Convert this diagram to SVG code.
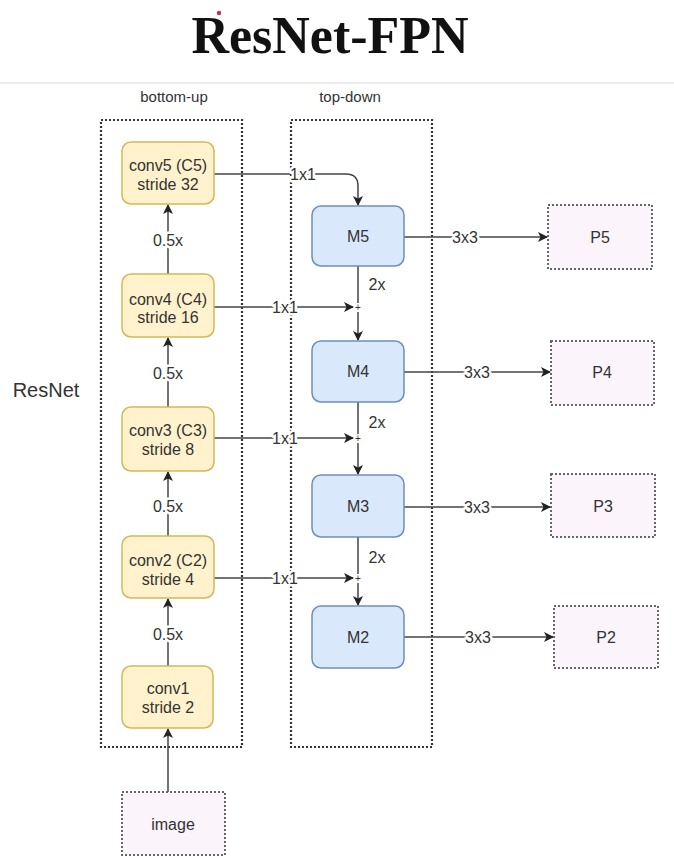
<svg xmlns="http://www.w3.org/2000/svg" width="674" height="866" viewBox="0 0 674 866">
<defs>
<marker id="arr" viewBox="0 0 10 10" refX="9" refY="5" markerWidth="10" markerHeight="10" markerUnits="userSpaceOnUse" orient="auto">
<path d="M0,0 L10,5 L0,10 L2.5,5 Z" fill="#222"/>
</marker>
<style>
.t{font-family:"Liberation Sans",Arial,sans-serif;font-size:16px;fill:#333;text-anchor:middle}
.lbl{font-family:"Liberation Sans",Arial,sans-serif;font-size:16px;fill:#333;text-anchor:middle;paint-order:stroke;stroke:#fff;stroke-width:5px;stroke-linejoin:round}
.sec{font-family:"Liberation Sans",Arial,sans-serif;font-size:15px;fill:#333;text-anchor:middle}
.cont{fill:none;stroke:#333;stroke-width:2.2;stroke-dasharray:2 2}
.conv{fill:#fff2cc;stroke:#d6b656;stroke-width:1.5}
.m{fill:#dae8fc;stroke:#6c8ebf;stroke-width:1.5}
.p{fill:#fbf4fb;stroke:#666;stroke-width:2;stroke-dasharray:2 2}
.ln{fill:none;stroke:#444;stroke-width:1.5}
.plus{font-family:"Liberation Sans",Arial,sans-serif;font-size:10px;fill:#333;text-anchor:middle}
</style>
</defs>
<rect width="674" height="866" fill="#fff"/>
<text x="330" y="53" font-family="Liberation Serif,'Times New Roman',serif" font-size="52" font-weight="bold" fill="#111" text-anchor="middle">ResNet-FPN</text>
<circle cx="219" cy="13" r="2.2" fill="#c0304a"/>
<line x1="0" y1="83" x2="674" y2="83" stroke="#e6e6e6" stroke-width="1.5"/>
<text class="sec" x="174" y="102">bottom-up</text>
<text class="sec" x="350" y="102">top-down</text>
<text x="46" y="397" font-family="Liberation Sans,Arial,sans-serif" font-size="20" fill="#333" text-anchor="middle">ResNet</text>
<g id="bottom-up"><rect class="cont" x="101" y="120" width="141" height="627"/></g>
<g id="top-down"><rect class="cont" x="291" y="120" width="141" height="627"/></g>
<g id="connectors">
<path class="ln" d="M214,174 H346 Q358,174 358,186 V205" marker-end="url(#arr)"/>
<text class="lbl" x="303" y="180">1x1</text>
<path class="ln" d="M214,307 H353" marker-end="url(#arr)"/>
<text class="lbl" x="285" y="313">1x1</text>
<path class="ln" d="M214,438 H353" marker-end="url(#arr)"/>
<text class="lbl" x="285" y="444">1x1</text>
<path class="ln" d="M214,578 H353" marker-end="url(#arr)"/>
<text class="lbl" x="285" y="584">1x1</text>
<path class="ln" d="M358,266 V303"/>
<path class="ln" d="M358,312 V340" marker-end="url(#arr)"/>
<text class="lbl" x="377" y="290">2x</text>
<path class="ln" d="M358,402 V434"/>
<path class="ln" d="M358,443 V474" marker-end="url(#arr)"/>
<text class="lbl" x="377" y="428">2x</text>
<path class="ln" d="M358,537 V574"/>
<path class="ln" d="M358,583 V605" marker-end="url(#arr)"/>
<text class="lbl" x="377" y="563">2x</text>
<text class="plus" x="358" y="311">+</text>
<text class="plus" x="358" y="442">+</text>
<text class="plus" x="358" y="582">+</text>
<path class="ln" d="M404,237 H547" marker-end="url(#arr)"/>
<text class="lbl" x="465" y="243">3x3</text>
<path class="ln" d="M404,372 H550" marker-end="url(#arr)"/>
<text class="lbl" x="477" y="378">3x3</text>
<path class="ln" d="M404,507 H550" marker-end="url(#arr)"/>
<text class="lbl" x="477" y="513">3x3</text>
<path class="ln" d="M404,637 H553" marker-end="url(#arr)"/>
<text class="lbl" x="478" y="643">3x3</text>
<path class="ln" d="M168,274 V205" marker-end="url(#arr)"/>
<text class="lbl" x="168" y="246">0.5x</text>
<path class="ln" d="M168,407 V338" marker-end="url(#arr)"/>
<text class="lbl" x="168" y="379">0.5x</text>
<path class="ln" d="M168,536 V472" marker-end="url(#arr)"/>
<text class="lbl" x="168" y="512">0.5x</text>
<path class="ln" d="M168,666 V599" marker-end="url(#arr)"/>
<text class="lbl" x="168" y="640">0.5x</text>
<path class="ln" d="M168,792 V729" marker-end="url(#arr)" stroke-width="2"/>
</g>
<g id="conv5"><rect class="conv" x="122" y="142" width="92" height="62" rx="9"/><text class="t" x="168" y="171">conv5 (C5)</text><text class="t" x="168" y="190">stride 32</text></g>
<g id="conv4"><rect class="conv" x="122" y="274" width="92" height="63" rx="9"/><text class="t" x="168" y="305">conv4 (C4)</text><text class="t" x="168" y="323">stride 16</text></g>
<g id="conv3"><rect class="conv" x="122" y="407" width="92" height="64" rx="9"/><text class="t" x="168" y="436">conv3 (C3)</text><text class="t" x="168" y="455">stride 8</text></g>
<g id="conv2"><rect class="conv" x="122" y="536" width="92" height="62" rx="9"/><text class="t" x="168" y="566">conv2 (C2)</text><text class="t" x="168" y="585">stride 4</text></g>
<g id="conv1"><rect class="conv" x="122" y="666" width="91" height="62" rx="9"/><text class="t" x="168" y="694">conv1</text><text class="t" x="168" y="713">stride 2</text></g>
<g id="image"><rect class="p" x="122" y="792" width="103" height="63"/><text class="t" x="173" y="830">image</text></g>
<g id="M5"><rect class="m" x="312" y="206" width="92" height="60" rx="9"/><text class="t" x="358" y="242">M5</text></g>
<g id="M4"><rect class="m" x="312" y="341" width="92" height="61" rx="9"/><text class="t" x="358" y="377">M4</text></g>
<g id="M3"><rect class="m" x="312" y="475" width="92" height="62" rx="9"/><text class="t" x="358" y="512">M3</text></g>
<g id="M2"><rect class="m" x="312" y="606" width="92" height="62" rx="9"/><text class="t" x="358" y="643">M2</text></g>
<g id="P5"><rect class="p" x="548" y="205" width="104" height="64"/><text class="t" x="600" y="243">P5</text></g>
<g id="P4"><rect class="p" x="551" y="341" width="103" height="64"/><text class="t" x="602" y="378">P4</text></g>
<g id="P3"><rect class="p" x="551" y="474" width="104" height="63"/><text class="t" x="603" y="512">P3</text></g>
<g id="P2"><rect class="p" x="554" y="606" width="104" height="62"/><text class="t" x="606" y="643">P2</text></g>
</svg>
